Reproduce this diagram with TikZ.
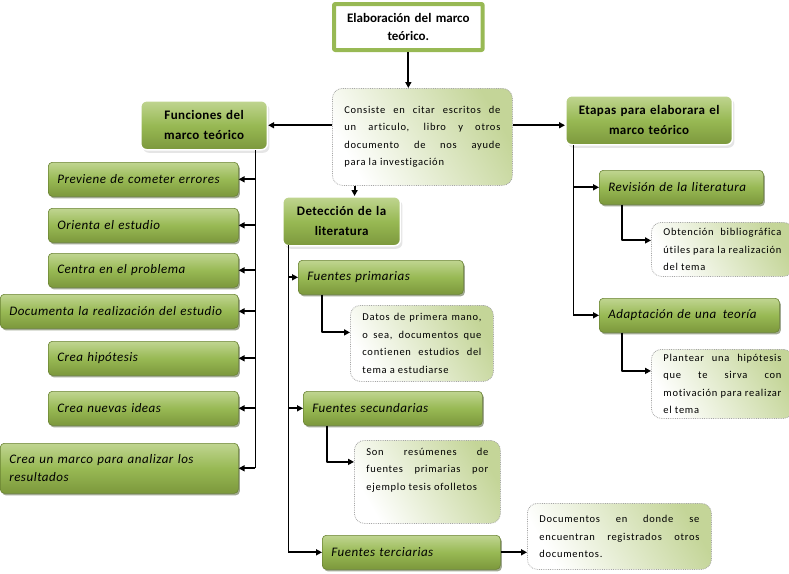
\documentclass[tikz,border=0pt]{standalone}
\usepackage{fontspec}
\setmainfont{Carlito}[Ligatures=NoCommon]
\usetikzlibrary{arrows.meta,shadows}
\definecolor{verde}{RGB}{152,185,84}
\definecolor{verdeclaro}{RGB}{192,213,145}
\definecolor{verdeoscuro}{RGB}{124,152,60}
\definecolor{bordeverde}{RGB}{105,130,50}
\definecolor{notaverde}{RGB}{196,213,152}
\begin{document}
\begin{tikzpicture}[x=1pt, y=-1pt, line join=round, >={Triangle[length=6pt,width=6pt]},
  titulo/.style={draw=verde, line width=4pt, fill=white, rounded corners=1pt, font=\fontsize{13}{18}\selectfont\bfseries, align=center, anchor=north west, minimum height=46pt, text width=142pt},
  cabeza/.style={draw=white, line width=1.5pt, top color=verdeclaro, bottom color=verdeoscuro, middle color=verde, rounded corners=6pt, font=\fontsize{13}{20}\selectfont\bfseries\addfontfeature{LetterSpace=3}, align=center, anchor=north west, minimum height=49pt, drop shadow={shadow xshift=2pt, shadow yshift=-3pt, fill=gray!40}},
  elemento/.style={draw=bordeverde, line width=0.6pt, top color=verdeclaro, bottom color=verdeoscuro, middle color=verde, rounded corners=4pt, font=\fontsize{13}{18}\selectfont\itshape\addfontfeature{LetterSpace=4}, align=left, anchor=north west, minimum height=34pt, inner xsep=9pt, drop shadow={shadow xshift=1.5pt, shadow yshift=-2pt, fill=black!55!verde}},
  nota/.style={draw=gray!70, densely dotted, line width=0.8pt, left color=white, right color=notaverde, shading angle=120, rounded corners=10pt, font=\fontsize{10.5}{17.5}\selectfont\addfontfeature{LetterSpace=7}, align=justify, anchor=north west, inner xsep=12pt},
  flecha/.style={->, line width=2pt},
  linea/.style={line width=0.9pt}]
\useasboundingbox (0,0) rectangle (789,573);

% centro
\node[titulo] (titulo) at (332,2) {Elaboración del marco\\teórico.};
\node[nota, text width=156pt, minimum height=97pt] (consiste) at (332,88) {Consiste en citar escritos de\linebreak un articulo, libro y otros\linebreak documento de nos ayude\linebreak para la investigación};

% cabezas
\node[cabeza, text width=120pt] (funciones) at (140,100) {Funciones del\\marco teórico};
\node[cabeza, text width=111pt] (deteccion) at (282,196) {Detección de la\\literatura};
\node[cabeza, text width=160pt] (etapas) at (565,95) {Etapas para elaborara el\\marco teórico};

% funciones
\node[elemento, text width=172pt] (previene) at (48,162) {Previene de cometer errores};
\node[elemento, text width=172pt] (orienta) at (48,208) {Orienta el estudio};
\node[elemento, text width=172pt] (centra) at (48,253) {Centra en el problema};
\node[elemento, text width=220pt] (documenta) at (0,294) {Documenta la realización del estudio};
\node[elemento, text width=172pt] (hipotesis) at (48,341) {Crea hipótesis};
\node[elemento, text width=172pt] (ideas) at (48,391) {Crea nuevas ideas};
\node[elemento, text width=220pt, minimum height=50pt] (marco) at (0,443) {Crea un marco para analizar los\\resultados};

% deteccion
\node[elemento, text width=147pt] (primarias) at (298,260) {Fuentes primarias};
\node[elemento, text width=161pt] (secundarias) at (303,391) {Fuentes secundarias};
\node[elemento, text width=160pt] (terciarias) at (322,535) {Fuentes terciarias};
\node[nota, text width=119pt, minimum height=76pt] (datos) at (350,305) {Datos de primera mano,\linebreak o sea, documentos que\linebreak contienen estudios del\linebreak tema a estudiarse};
\node[nota, text width=122pt, minimum height=83pt] (resumenes) at (354,440) {Son resúmenes de\linebreak fuentes primarias por\linebreak ejemplo tesis ofolletos\\[8pt]};
\node[nota, text width=160pt, minimum height=66pt] (documentos) at (527,503) {Documentos en donde se\linebreak encuentran registrados otros\linebreak documentos.};

% etapas
\node[elemento, text width=146pt] (revision) at (599,170) {Revisión de la literatura};
\node[elemento, text width=162pt] (adaptacion) at (599,298) {Adaptación de una\, teoría};
\node[nota, text width=118pt, minimum height=54pt] (obtencion) at (651,222) {Obtención bibliográfica\linebreak útiles para la realización\linebreak del tema};
\node[nota, text width=118pt, minimum height=69pt] (plantear) at (651,349) {Plantear una hipótesis\linebreak que te sirva con\linebreak motivación para realizar\linebreak el tema};

\coordinate (ejeF) at (255,150);
\coordinate (ejeD) at (288,245);
\coordinate (ejeE) at (573,145);

% conectores
\draw[flecha] (titulo.south) -- (titulo.south |- consiste.north);
\draw[flecha] (funciones.east -| consiste.west) -- (funciones.east);
\draw[flecha] ([yshift=-5pt]etapas.west -| consiste.east) -- ([yshift=-5pt]etapas.west);
\draw[flecha] ([xshift=13pt]deteccion.north |- consiste.south) -- ([xshift=13pt]deteccion.north);

\draw[linea] (ejeF) -- (ejeF |- marco.east);
\foreach \n in {previene,orienta,centra,documenta,hipotesis,ideas,marco}
  \draw[flecha] (ejeF |- \n.east) -- (\n.east);

\draw[linea] (ejeD) -- (ejeD |- terciarias.west);
\foreach \n in {primarias,secundarias,terciarias}
  \draw[flecha] (ejeD |- \n.west) -- (\n.west);
\draw[flecha] ([xshift=24pt]primarias.south west) |- ([yshift=11pt]datos.west);
\draw[flecha] ([xshift=24pt]secundarias.south west) |- ([yshift=20pt]resumenes.west);
\draw[flecha] (terciarias.east) -- (terciarias.east -| documentos.west);

\draw[linea] (ejeE) -- (ejeE |- adaptacion.west);
\foreach \n in {revision,adaptacion}
  \draw[flecha] (ejeE |- \n.west) -- (\n.west);
\draw[flecha] ([xshift=23pt]revision.south west) |- ([yshift=9pt]obtencion.west);
\draw[flecha] ([xshift=23pt]adaptacion.south west) |- ([yshift=13pt]plantear.west);
\end{tikzpicture}
\end{document}
